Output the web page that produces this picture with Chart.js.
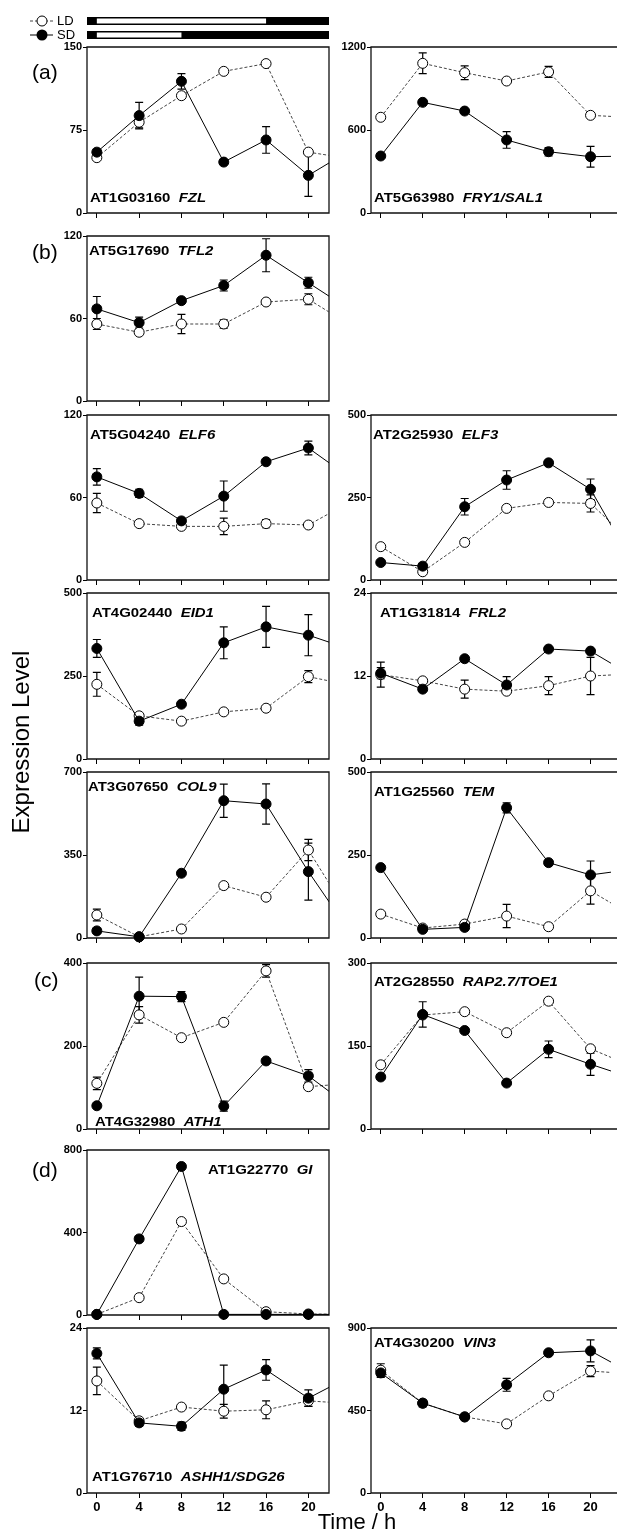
<!DOCTYPE html>
<html>
<head>
<meta charset="utf-8">
<script src="https://cdn.jsdelivr.net/npm/chart.js"></script>
<style>
  body { margin: 0; background: #fff; width: 617px; height: 1533px; overflow: hidden; position: relative;
         font-family: "Liberation Sans", Arial, sans-serif; color: #000; }
  canvas { position: absolute; }
  .txt { position: absolute; white-space: pre; }
  .letter { font-size: 21px; line-height: 24px; }
  .gene { font-size: 13px; font-weight: bold; line-height: 16px; transform: scaleX(1.15); transform-origin: 0 50%; }
  .key { font-size: 13px; line-height: 14px; }
</style>
</head>
<body>
<script>
// time points (24 h = next cycle, clipped at the right edge)
const hours = [0, 4, 8, 12, 16, 20, 24];
const xTickHours = [0, 4, 8, 12, 16, 20];
const ldLight = [0, 16];
const sdLight = [0, 8];

// (a)
const fzlLD = [50, 82, 106, 128, 135, 55, 49];
const fzlLDErr = [0, 5, 0, 0, 0, 0];
const fzlSD = [55, 88, 119, 46, 66, 34, 57];
const fzlSDErr = [0, 12, 7, 0, 12, 19];

const fryLD = [692, 1082, 1014, 954, 1020, 706, 690];
const fryLDErr = [0, 75, 50, 0, 40, 0];
const frySD = [412, 800, 737, 528, 443, 407, 412];
const frySDErr = [0, 0, 0, 60, 30, 75];

// (b)
const tfl2LD = [56, 50, 56, 56, 72, 74, 55];
const tfl2LDErr = [4, 0, 7, 3, 0, 4];
const tfl2SD = [67, 57, 73, 84, 106, 86, 66];
const tfl2SDErr = [9, 4, 0, 4, 12, 4];

const elf6LD = [56, 41, 39, 39, 41, 40, 57];
const elf6LDErr = [7, 0, 0, 6, 3, 0];
const elf6SD = [75, 63, 43, 61, 86, 96, 74];
const elf6SDErr = [6, 3, 0, 11, 0, 5];

const elf3LD = [101, 25, 114, 217, 235, 232, 112];
const elf3LDErr = [0, 0, 0, 0, 0, 26];
const elf3SD = [53, 42, 222, 303, 355, 275, 53];
const elf3SDErr = [0, 0, 25, 28, 0, 31];

const eid1LD = [225, 130, 114, 142, 153, 248, 222];
const eid1LDErr = [36, 0, 0, 0, 0, 18];
const eid1SD = [333, 114, 165, 350, 398, 373, 330];
const eid1SDErr = [27, 12, 0, 48, 62, 62];

const frl2LD = [12.2, 11.3, 10.1, 9.8, 10.6, 12.0, 12.3];
const frl2LDErr = [1.8, 0, 1.3, 0, 1.3, 2.7];
const frl2SD = [12.4, 10.1, 14.5, 10.7, 15.9, 15.6, 12.0];
const frl2SDErr = [0.8, 0, 0, 1.2, 0, 0];

const col9LD = [97, 5, 38, 221, 172, 371, 85];
const col9LDErr = [25, 0, 0, 0, 0, 45];
const col9SD = [30, 5, 273, 579, 565, 280, 20];
const col9SDErr = [0, 0, 0, 70, 85, 120];

const temLD = [72, 30, 42, 66, 34, 142, 67];
const temLDErr = [0, 0, 0, 35, 0, 40];
const temSD = [212, 26, 32, 392, 227, 190, 207];
const temSDErr = [0, 0, 0, 15, 0, 42];

// (c)
const ath1LD = [110, 275, 220, 257, 381, 102, 110];
const ath1LDErr = [15, 20, 0, 0, 15, 0];
const ath1SD = [56, 320, 319, 55, 164, 128, 52];
const ath1SDErr = [0, 46, 12, 12, 0, 15];

const rapLD = [116, 206, 212, 174, 231, 145, 113];
const rapLDErr = [0, 0, 0, 0, 0, 0];
const rapSD = [94, 207, 178, 83, 144, 117, 92];
const rapSDErr = [0, 23, 0, 0, 15, 20];

// (d)
const giLD = [3, 84, 453, 175, 16, 5, 3];
const giLDErr = [0, 0, 0, 0, 0, 0];
const giSD = [3, 369, 720, 3, 3, 3, 3];
const giSDErr = [0, 0, 0, 0, 0, 0];

const ashh1LD = [16.3, 10.5, 12.5, 11.9, 12.1, 13.4, 13];
const ashh1LDErr = [2, 0, 0, 1, 1.3, 0.8];
const ashh1SD = [20.3, 10.2, 9.7, 15.1, 17.9, 13.8, 17];
const ashh1SDErr = [0.8, 0.5, 0.6, 3.5, 1.5, 1.2];

const vin3LD = [670, 490, 415, 377, 530, 665, 650];
const vin3LDErr = [35, 0, 0, 0, 0, 30];
const vin3SD = [655, 490, 415, 590, 765, 775, 650];
const vin3SDErr = [25, 20, 0, 35, 0, 60];

// panel layout
const panels = [
  { col: 0, top: 47, bottom: 213, max: 150, ld: fzlLD, ldErr: fzlLDErr, sd: fzlSD, sdErr: fzlSDErr, id: 'AT1G03160', gene: 'FZL', lx: 3, ly: 151, header: true },
  { col: 1, top: 47, bottom: 213, max: 1200, ld: fryLD, ldErr: fryLDErr, sd: frySD, sdErr: frySDErr, id: 'AT5G63980', gene: 'FRY1/SAL1', lx: 3, ly: 151 },
  { col: 0, top: 236, bottom: 401, max: 120, ld: tfl2LD, ldErr: tfl2LDErr, sd: tfl2SD, sdErr: tfl2SDErr, id: 'AT5G17690', gene: 'TFL2', lx: 2, ly: 15 },
  { col: 0, top: 415, bottom: 580, max: 120, ld: elf6LD, ldErr: elf6LDErr, sd: elf6SD, sdErr: elf6SDErr, id: 'AT5G04240', gene: 'ELF6', lx: 3, ly: 20 },
  { col: 1, top: 415, bottom: 580, max: 500, ld: elf3LD, ldErr: elf3LDErr, sd: elf3SD, sdErr: elf3SDErr, id: 'AT2G25930', gene: 'ELF3', lx: 2, ly: 20 },
  { col: 0, top: 593, bottom: 759, max: 500, ld: eid1LD, ldErr: eid1LDErr, sd: eid1SD, sdErr: eid1SDErr, id: 'AT4G02440', gene: 'EID1', lx: 5, ly: 20 },
  { col: 1, top: 593, bottom: 759, max: 24, ld: frl2LD, ldErr: frl2LDErr, sd: frl2SD, sdErr: frl2SDErr, id: 'AT1G31814', gene: 'FRL2', lx: 9, ly: 20 },
  { col: 0, top: 772, bottom: 938, max: 700, ld: col9LD, ldErr: col9LDErr, sd: col9SD, sdErr: col9SDErr, id: 'AT3G07650', gene: 'COL9', lx: 1, ly: 15 },
  { col: 1, top: 772, bottom: 938, max: 500, ld: temLD, ldErr: temLDErr, sd: temSD, sdErr: temSDErr, id: 'AT1G25560', gene: 'TEM', lx: 3, ly: 20 },
  { col: 0, top: 963, bottom: 1129, max: 400, ld: ath1LD, ldErr: ath1LDErr, sd: ath1SD, sdErr: ath1SDErr, id: 'AT4G32980', gene: 'ATH1', lx: 8, ly: 159 },
  { col: 1, top: 963, bottom: 1129, max: 300, ld: rapLD, ldErr: rapLDErr, sd: rapSD, sdErr: rapSDErr, id: 'AT2G28550', gene: 'RAP2.7/TOE1', lx: 3, ly: 19 },
  { col: 0, top: 1150, bottom: 1315, max: 800, ld: giLD, ldErr: giLDErr, sd: giSD, sdErr: giSDErr, id: 'AT1G22770', gene: 'GI', lx: 121, ly: 20 },
  { col: 0, top: 1328, bottom: 1493, max: 24, ld: ashh1LD, ldErr: ashh1LDErr, sd: ashh1SD, sdErr: ashh1SDErr, id: 'AT1G76710', gene: 'ASHH1/SDG26', lx: 5, ly: 149, bottomRow: true },
  { col: 1, top: 1328, bottom: 1493, max: 900, ld: vin3LD, ldErr: vin3LDErr, sd: vin3SD, sdErr: vin3SDErr, id: 'AT4G30200', gene: 'VIN3', lx: 3, ly: 15, bottomRow: true }
];

const columns = [
  { canvasLeft: 0, width: 335, axisW: 87, padRight: 2, openRight: false },
  { canvasLeft: 335, width: 282, axisW: 36, padRight: 0, openRight: true }
];

const tickFont = { family: '"Liberation Sans", Arial, sans-serif', weight: 'bold', size: 11 };
const bottomFont = { family: '"Liberation Sans", Arial, sans-serif', weight: 'bold', size: 13 };

// box round the plot area (right column runs off the page)
const framePlugin = {
  id: 'frame',
  beforeDatasetsDraw(chart, args, opts) {
    const { ctx, chartArea: a } = chart;
    const r = opts.openRight ? chart.width + 2 : a.right;
    ctx.save();
    ctx.strokeStyle = '#111';
    ctx.lineWidth = 1.3;
    ctx.beginPath();
    ctx.moveTo(r, a.top);
    ctx.lineTo(a.left, a.top);
    ctx.lineTo(a.left, a.bottom);
    ctx.lineTo(r, a.bottom);
    if (!opts.openRight) ctx.closePath();
    ctx.stroke();
    ctx.restore();
  }
};

const errorBarPlugin = {
  id: 'errorBars',
  beforeDatasetsDraw(chart) {
    const { ctx, scales: { x, y } } = chart;
    ctx.save();
    ctx.strokeStyle = '#000';
    ctx.lineWidth = 1.2;
    chart.data.datasets.forEach(ds => {
      (ds.errors || []).forEach((e, i) => {
        if (!e) return;
        const v = ds.data[i].y;
        const px = x.getPixelForValue(hours[i]);
        const t = y.getPixelForValue(v + e);
        const b = y.getPixelForValue(Math.max(0, v - e));
        ctx.beginPath();
        ctx.moveTo(px, t); ctx.lineTo(px, b);
        ctx.moveTo(px - 4, t); ctx.lineTo(px + 4, t);
        ctx.moveTo(px - 4, b); ctx.lineTo(px + 4, b);
        ctx.stroke();
      });
    });
    ctx.restore();
  }
};

// light/dark bars and LD/SD keys above panel (a)
const headerPlugin = {
  id: 'header',
  afterDraw(chart, args, opts) {
    if (!opts.show) return;
    const { ctx, chartArea: a, scales: { x } } = chart;
    ctx.save();
    [[ldLight, 17], [sdLight, 31]].forEach(([light, y]) => {
      ctx.fillStyle = '#000';
      ctx.fillRect(a.left, y, a.right - a.left, 8);
      const x0 = x.getPixelForValue(light[0]);
      const x1 = x.getPixelForValue(light[1]);
      ctx.fillStyle = '#fff';
      ctx.fillRect(x0, y + 1.5, x1 - x0, 5);
    });
    // LD key
    ctx.strokeStyle = '#444';
    ctx.lineWidth = 1;
    ctx.setLineDash([3, 2]);
    ctx.beginPath(); ctx.moveTo(30, 21); ctx.lineTo(53, 21); ctx.stroke();
    ctx.setLineDash([]);
    ctx.fillStyle = '#fff';
    ctx.strokeStyle = '#000';
    ctx.beginPath(); ctx.arc(42, 21, 5, 0, Math.PI * 2); ctx.fill(); ctx.stroke();
    // SD key
    ctx.beginPath(); ctx.moveTo(30, 35); ctx.lineTo(53, 35); ctx.stroke();
    ctx.fillStyle = '#000';
    ctx.beginPath(); ctx.arc(42, 35, 5.5, 0, Math.PI * 2); ctx.fill();
    ctx.restore();
  }
};

function series(hs, vals) {
  return hs.map((h, i) => ({ x: h, y: vals[i] }));
}

panels.forEach(p => {
  const c = columns[p.col];
  const padTop = p.header ? 47 : 10;
  const xh = p.bottomRow ? 30 : 10;
  const h = padTop + (p.bottom - p.top) + xh;
  const canvas = document.createElement('canvas');
  canvas.width = c.width;
  canvas.height = h;
  canvas.style.left = c.canvasLeft + 'px';
  canvas.style.top = (p.top - padTop) + 'px';
  canvas.style.width = c.width + 'px';
  canvas.style.height = h + 'px';
  document.body.appendChild(canvas);

  const clip = { left: 10, top: 10, right: 0, bottom: 10 };
  const yMax = p.max;

  new Chart(canvas, {
    type: 'line',
    data: {
      datasets: [
        {
          label: 'SD', data: series(hours, p.sd), errors: p.sdErr, order: 0,
          borderColor: '#000', borderWidth: 1, tension: 0, clip,
          pointRadius: 5, pointBorderWidth: 1, pointBackgroundColor: '#000', pointBorderColor: '#000'
        },
        {
          label: 'LD', data: series(hours, p.ld), errors: p.ldErr, order: 1,
          borderColor: '#444', borderWidth: 1, borderDash: [3, 2], tension: 0, clip,
          pointRadius: 5, pointBorderWidth: 1, pointBackgroundColor: '#fff', pointBorderColor: '#000'
        }
      ]
    },
    options: {
      responsive: false,
      animation: false,
      devicePixelRatio: 1,
      layout: { padding: { top: padTop, right: c.padRight, bottom: 0, left: 0 } },
      plugins: {
        legend: { display: false },
        tooltip: { enabled: false },
        frame: { openRight: c.openRight },
        header: { show: !!p.header }
      },
      scales: {
        x: {
          type: 'linear', min: -0.93, max: 21.95,
          afterBuildTicks: s => { s.ticks = xTickHours.map(v => ({ value: v })); },
          afterFit: s => { s.height = xh; },
          border: { display: false },
          grid: { drawOnChartArea: false, drawTicks: true, tickLength: 5, color: '#000', lineWidth: 1 },
          ticks: { display: !!p.bottomRow, font: bottomFont, color: '#000', padding: 2, maxRotation: 0, autoSkip: false,
                   callback: v => String(v) }
        },
        y: {
          min: 0, max: yMax,
          afterBuildTicks: s => { s.ticks = [0, yMax / 2, yMax].map(v => ({ value: v })); },
          afterFit: s => { s.width = c.axisW; },
          border: { display: false },
          grid: { drawOnChartArea: false, drawTicks: true, tickLength: 4, color: '#000', lineWidth: 1 },
          ticks: { font: tickFont, color: '#000', padding: 1, callback: v => String(v) }
        }
      }
    },
    plugins: [framePlugin, errorBarPlugin, headerPlugin]
  });

  const plotLeft = c.canvasLeft + c.axisW;
  const lab = document.createElement('div');
  lab.className = 'txt gene';
  lab.style.left = (plotLeft + p.lx) + 'px';
  lab.style.top = (p.top + p.ly - 8) + 'px';
  lab.innerHTML = p.id + '  <i>' + p.gene + '</i>';
  document.body.appendChild(lab);
});

// static texts
function addText(cls, html, css) {
  const d = document.createElement('div');
  d.className = 'txt ' + cls;
  d.innerHTML = html;
  Object.assign(d.style, css);
  document.body.appendChild(d);
}
addText('key', 'LD', { left: '57px', top: '14px' });
addText('key', 'SD', { left: '57px', top: '28px' });
addText('letter', '(a)', { left: '32px', top: '60px' });
addText('letter', '(b)', { left: '32px', top: '240px' });
addText('letter', '(c)', { left: '34px', top: '968px' });
addText('letter', '(d)', { left: '32px', top: '1158px' });
addText('', 'Expression Level', { left: '-129px', top: '727px', width: '300px', height: '30px', lineHeight: '30px',
  fontSize: '24px', textAlign: 'center', transform: 'rotate(-90deg)' });
addText('', 'Time / h', { left: '257px', top: '1510px', width: '200px', lineHeight: '24px', fontSize: '22px', textAlign: 'center' });
</script>
</body>
</html>
